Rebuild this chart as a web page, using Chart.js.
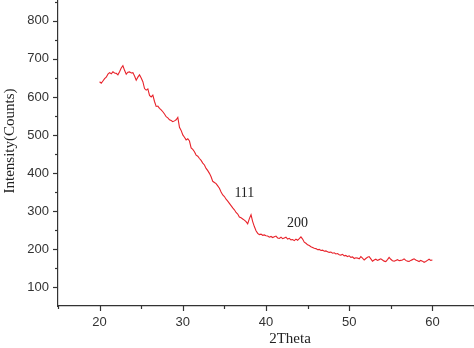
<!DOCTYPE html>
<html>
<head>
<meta charset="utf-8">
<script src="https://cdn.jsdelivr.net/npm/chart.js@4"></script>
<style>
  html, body { margin: 0; padding: 0; background: #fff; }
  #wrap { width: 474px; height: 348px; }
</style>
</head>
<body>
<div id="wrap"><canvas id="xrd"></canvas></div>
<script>
"use strict";
/* 2Theta positions (degrees) */
var angles = [20.0, 20.2, 20.4, 20.6, 20.8, 21.0, 21.2, 21.4, 21.6, 21.8,
    22.0, 22.2, 22.4, 22.6, 22.8, 23.0, 23.2, 23.4, 23.6, 23.8,
    24.0, 24.2, 24.4, 24.6, 24.8, 25.0, 25.2, 25.4, 25.6, 25.8,
    26.0, 26.2, 26.4, 26.6, 26.8, 27.0, 27.2, 27.4, 27.6, 27.8,
    28.0, 28.2, 28.4, 28.6, 28.8, 29.0, 29.2, 29.4, 29.6, 29.8,
    30.0, 30.2, 30.4, 30.6, 30.8, 31.0, 31.2, 31.4, 31.6, 31.8,
    32.0, 32.2, 32.4, 32.6, 32.8, 33.0, 33.2, 33.4, 33.6, 33.8,
    34.0, 34.2, 34.4, 34.6, 34.8, 35.0, 35.2, 35.4, 35.6, 35.8,
    36.0, 36.2, 36.4, 36.6, 36.8, 37.0, 37.2, 37.4, 37.6, 37.8,
    38.0, 38.2, 38.4, 38.6, 38.8, 39.0, 39.2, 39.4, 39.6, 39.8,
    40.0, 40.2, 40.4, 40.6, 40.8, 41.0, 41.2, 41.4, 41.6, 41.8,
    42.0, 42.2, 42.4, 42.6, 42.8, 43.0, 43.2, 43.4, 43.6, 43.8,
    44.0, 44.2, 44.4, 44.6, 44.8, 45.0, 45.2, 45.4, 45.6, 45.8,
    46.0, 46.2, 46.4, 46.6, 46.8, 47.0, 47.2, 47.4, 47.6, 47.8,
    48.0, 48.2, 48.4, 48.6, 48.8, 49.0, 49.2, 49.4, 49.6, 49.8,
    50.0, 50.2, 50.4, 50.6, 50.8, 51.0, 51.2, 51.4, 51.6, 51.8,
    52.0, 52.2, 52.4, 52.6, 52.8, 53.0, 53.2, 53.4, 53.6, 53.8,
    54.0, 54.2, 54.4, 54.6, 54.8, 55.0, 55.2, 55.4, 55.6, 55.8,
    56.0, 56.2, 56.4, 56.6, 56.8, 57.0, 57.2, 57.4, 57.6, 57.8,
    58.0, 58.2, 58.4, 58.6, 58.8, 59.0, 59.2, 59.4, 59.6, 59.8,
    60.0];

/* intensity (counts) */
var counts = [640, 636, 642, 648, 652, 660, 664, 661, 666, 663,
    662, 658, 666, 676, 682, 670, 660, 665, 666, 663,
    664, 655, 644, 652, 658, 650, 640, 622, 618, 621,
    604, 600, 605, 588, 575, 576, 570, 566, 561, 555,
    548, 545, 540, 538, 535, 537, 540, 546, 520, 512,
    500, 494, 487, 490, 484, 466, 462, 456, 447, 444,
    438, 433, 426, 421, 412, 406, 399, 390, 378, 375,
    372, 366, 360, 350, 342, 338, 331, 326, 320, 314,
    308, 303, 296, 292, 284, 282, 279, 276, 272, 266,
    280, 290, 272, 259, 248, 241, 238, 239, 236, 237,
    235, 234, 231, 233, 230, 232, 234, 229, 228, 231,
    227, 229, 231, 226, 228, 224, 225, 222, 226, 223,
    227, 232, 226, 218, 215, 211, 209, 206, 204, 202,
    201, 198, 199, 196, 197, 194, 195, 193, 191, 192,
    189, 190, 187, 188, 185, 184, 186, 182, 183, 180,
    182, 178, 179, 175, 177, 176, 174, 180, 176, 171,
    175, 178, 180, 174, 168, 171, 173, 170, 172, 174,
    171, 168, 167, 172, 178, 173, 169, 168, 170, 172,
    169, 170, 171, 174, 170, 168, 167, 170, 172, 174,
    171, 169, 167, 170, 168, 165, 167, 170, 173, 170,
    171];

var xTicks = [20, 30, 40, 50, 60];
var yTicks = [100, 200, 300, 400, 500, 600, 700, 800];

/* peak labels */
var peakNames = ["111", "200"];
var peakX = [37.4, 43.8];
var peakY = [347, 268];

var points = [];
for (var i = 0; i < angles.length; i++) {
    points.push({ x: angles[i], y: counts[i] });
}

var axisColor = "#333";
var tickFont = { family: "Liberation Sans, Arial, sans-serif", size: 13 };

var extras = {
    id: "extras",
    afterDraw: function (chart) {
        var ctx = chart.ctx;
        var xs = chart.scales.x;
        var ys = chart.scales.y;
        var area = chart.chartArea;
        ctx.save();
        ctx.strokeStyle = axisColor;
        ctx.lineWidth = 1.2;
        /* x ticks, major and minor */
        for (var v = 15; v <= 65; v += 5) {
            var px = Math.round(xs.getPixelForValue(v)) + 0.5;
            var len = (v % 10 === 0) ? 5 : 3;
            ctx.beginPath();
            ctx.moveTo(px, area.bottom);
            ctx.lineTo(px, area.bottom + len);
            ctx.stroke();
        }
        /* y ticks */
        for (var w = 100; w <= 850; w += 50) {
            var py = Math.round(ys.getPixelForValue(w)) + 0.5;
            var l2 = (w % 100 === 0) ? 5 : 3;
            ctx.beginPath();
            ctx.moveTo(area.left, py);
            ctx.lineTo(area.left - l2, py);
            ctx.stroke();
        }
        /* peak labels */
        ctx.fillStyle = "#222";
        ctx.font = "14px 'Liberation Serif'";
        ctx.textAlign = "center";
        ctx.textBaseline = "middle";
        for (var k = 0; k < peakNames.length; k++) {
            ctx.fillText(peakNames[k], xs.getPixelForValue(peakX[k]), ys.getPixelForValue(peakY[k]));
        }
        /* axis titles */
        ctx.font = "15px 'Liberation Serif'";
        ctx.fillText("2Theta", 290, 339);
        ctx.translate(10, 141);
        ctx.rotate(-Math.PI / 2);
        ctx.fillText("Intensity(Counts)", 0, 0);
        ctx.restore();
    }
};

var ctx = document.getElementById("xrd");
var myChart = new Chart(ctx, {
    type: "line",
    data: {
        datasets: [{
            data: points,
            borderColor: "#e8232b",
            borderWidth: 1.1,
            pointRadius: 0,
            fill: false,
            tension: 0
        }]
    },
    options: {
        responsive: true,
        maintainAspectRatio: false,
        animation: false,
        layout: { padding: 0 },
        plugins: {
            legend: { display: false },
            tooltip: { enabled: false }
        },
        scales: {
            x: {
                type: "linear",
                min: 15,
                max: 65,
                afterFit: function (s) {
                    s.height = 42;
                    s.paddingLeft = 0;
                    s.paddingRight = 0;
                },
                afterBuildTicks: function (s) {
                    s.ticks = xTicks.map(function (v) { return { value: v }; });
                },
                grid: { drawOnChartArea: false, drawTicks: false },
                border: { display: true, color: axisColor, width: 1.2 },
                ticks: { padding: 9, color: "#333", font: tickFont }
            },
            y: {
                min: 50,
                max: 855,
                afterFit: function (s) {
                    s.width = 58;
                    s.paddingTop = 0;
                    s.paddingBottom = 0;
                },
                afterBuildTicks: function (s) {
                    s.ticks = yTicks.map(function (v) { return { value: v }; });
                },
                grid: { drawOnChartArea: false, drawTicks: false },
                border: { display: true, color: axisColor, width: 1.2 },
                ticks: { padding: 9, color: "#333", font: tickFont }
            }
        }
    },
    plugins: [extras]
});
</script>
</body>
</html>
